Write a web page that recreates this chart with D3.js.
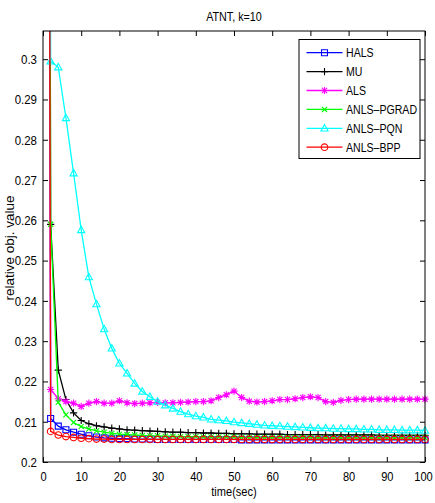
<!DOCTYPE html>
<html>
<head>
<meta charset="utf-8">
<script src="https://cdn.jsdelivr.net/npm/d3@7"></script>
<style>
    body { margin: 0; background: #fff; }
    text { font-family: "Liberation Sans", Arial, Helvetica, sans-serif; fill: #000; }
</style>
</head>
<body>
<svg id="chart" width="435" height="503"></svg>
<script>
// time stamps (sec), every series is sampled at these
const times = [0, 2, 4, 6, 8, 10, 12, 14, 16, 18,
    20, 22, 24, 26, 28, 30, 32, 34, 36, 38,
    40, 42, 44, 46, 48, 50, 52, 54, 56, 58,
    60, 62, 64, 66, 68, 70, 72, 74, 76, 78,
    80, 82, 84, 86, 88, 90, 92, 94, 96, 98,
    100];

const halsValues = [1.2, 0.2108, 0.2089, 0.2080, 0.2074, 0.2069, 0.2065, 0.2062, 0.2060, 0.2059,
    0.2058, 0.2058, 0.2057, 0.2057, 0.2057, 0.2056, 0.2056, 0.2056, 0.2056, 0.2056,
    0.2056, 0.2056, 0.2056, 0.2056, 0.2056, 0.2056, 0.2055, 0.2055, 0.2055, 0.2055,
    0.2055, 0.2055, 0.2055, 0.2055, 0.2055, 0.2055, 0.2055, 0.2055, 0.2055, 0.2055,
    0.2055, 0.2055, 0.2055, 0.2055, 0.2055, 0.2055, 0.2055, 0.2055, 0.2055, 0.2055,
    0.2055];

const muValues = [1.2, 0.2590, 0.2228, 0.2155, 0.2122, 0.2103, 0.2095, 0.2090, 0.2087, 0.2084,
    0.2082, 0.2080, 0.2079, 0.2078, 0.2077, 0.2076, 0.2075, 0.2074, 0.2074, 0.2073,
    0.2073, 0.2072, 0.2072, 0.2071, 0.2071, 0.2070, 0.2070, 0.2070, 0.2069, 0.2069,
    0.2069, 0.2069, 0.2068, 0.2068, 0.2068, 0.2068, 0.2068, 0.2067, 0.2067, 0.2067,
    0.2067, 0.2067, 0.2067, 0.2067, 0.2066, 0.2066, 0.2066, 0.2066, 0.2066, 0.2066,
    0.2066];

const alsValues = [1.2, 0.2180, 0.2157, 0.2150, 0.2146, 0.2138, 0.2146, 0.2150, 0.2146, 0.2146,
    0.2152, 0.2147, 0.2145, 0.2146, 0.2147, 0.2148, 0.2147, 0.2147, 0.2148, 0.2149,
    0.2150, 0.2150, 0.2152, 0.2160, 0.2167, 0.2176, 0.2160, 0.2151, 0.2149, 0.2150,
    0.2152, 0.2155, 0.2155, 0.2157, 0.2160, 0.2162, 0.2160, 0.2150, 0.2148, 0.2153,
    0.2155, 0.2156, 0.2156, 0.2156, 0.2156, 0.2156, 0.2156, 0.2156, 0.2156, 0.2156,
    0.2156];

const pgradValues = [1.2, 0.2590, 0.2148, 0.2117, 0.2098, 0.2088, 0.2082, 0.2077, 0.2074, 0.2071,
    0.2069, 0.2068, 0.2067, 0.2066, 0.2065, 0.2065, 0.2064, 0.2064, 0.2063, 0.2063,
    0.2063, 0.2062, 0.2062, 0.2062, 0.2062, 0.2062, 0.2061, 0.2061, 0.2061, 0.2061,
    0.2061, 0.2061, 0.2061, 0.2061, 0.2061, 0.2061, 0.2060, 0.2060, 0.2060, 0.2060,
    0.2060, 0.2060, 0.2060, 0.2060, 0.2060, 0.2060, 0.2060, 0.2060, 0.2060, 0.2060,
    0.2060];

const pqnValues = [1.2, 0.2995, 0.2980, 0.2854, 0.2717, 0.2576, 0.2459, 0.2392, 0.2330, 0.2282,
    0.2245, 0.2220, 0.2195, 0.2175, 0.2162, 0.2150, 0.2141, 0.2133, 0.2125, 0.2119,
    0.2114, 0.2111, 0.2106, 0.2104, 0.2102, 0.2099, 0.2097, 0.2095, 0.2093, 0.2091,
    0.2090, 0.2089, 0.2088, 0.2087, 0.2086, 0.2085, 0.2084, 0.2084, 0.2083, 0.2083,
    0.2082, 0.2082, 0.2081, 0.2081, 0.2080, 0.2080, 0.2080, 0.2079, 0.2079, 0.2079,
    0.2078];

const bppValues = [1.2, 0.2076, 0.2067, 0.2063, 0.2061, 0.2059, 0.2058, 0.2057, 0.2057, 0.2056,
    0.2056, 0.2056, 0.2056, 0.2056, 0.2056, 0.2056, 0.2056, 0.2056, 0.2056, 0.2056,
    0.2056, 0.2056, 0.2056, 0.2056, 0.2056, 0.2056, 0.2056, 0.2056, 0.2056, 0.2056,
    0.2056, 0.2056, 0.2056, 0.2056, 0.2056, 0.2056, 0.2056, 0.2056, 0.2056, 0.2056,
    0.2056, 0.2056, 0.2056, 0.2056, 0.2056, 0.2056, 0.2056, 0.2056, 0.2056, 0.2056,
    0.2056];

const seriesNames = ["HALS", "MU", "ALS", "ANLS\u2013PGRAD", "ANLS\u2013PQN", "ANLS\u2013BPP"];
const seriesValues = [halsValues, muValues, alsValues, pgradValues, pqnValues, bppValues];

const xTicks = [0, 10, 20, 30, 40, 50, 60, 70, 80, 90, 100];
const xTickLabels = ["0", "10", "20", "30", "40", "50", "60", "70", "80", "90", "100"];
const yTicks = [0.2, 0.21, 0.22, 0.23, 0.24, 0.25, 0.26, 0.27, 0.28, 0.29, 0.3];
const yTickLabels = ["0.2", "0.21", "0.22", "0.23", "0.24", "0.25", "0.26", "0.27", "0.28", "0.29", "0.3"];

const titleText = "ATNT, k=10";
const xLabelText = "time(sec)";
const yLabelText = "relative obj. value";

// look of each series (colour + marker)
const seriesStyles = [
    { color: "#0000ff", marker: "square" },
    { color: "#000000", marker: "plus" },
    { color: "#ff00ff", marker: "star" },
    { color: "#00ff00", marker: "cross" },
    { color: "#00ffff", marker: "triangle" },
    { color: "#ff0000", marker: "circle" }
];

const plotLeft = 43, plotRight = 425, plotTop = 31, plotBottom = 462;
const yMax = 0.307;

const svg = d3.select("#chart");

const x = d3.scaleLinear().domain([0, 100]).range([plotLeft, plotRight]);
const y = d3.scaleLinear().domain([0.2, yMax]).range([plotBottom, plotTop]);

svg.append("rect").attr("width", 435).attr("height", 503).attr("fill", "#fff");

svg.append("defs").append("clipPath").attr("id", "plotClip")
    .append("rect")
    .attr("x", plotLeft).attr("y", plotTop)
    .attr("width", plotRight - plotLeft).attr("height", plotBottom - plotTop);

// narrow helvetica look
function squeeze(sel, k) {
    sel.each(function () {
        const w = this.getComputedTextLength();
        d3.select(this).attr("textLength", w * k).attr("lengthAdjust", "spacingAndGlyphs");
    });
}

function markerPath(kind, r) {
    if (kind === "square") return `M${-r},${-r}H${r}V${r}H${-r}Z`;
    if (kind === "plus") return `M${-r},0H${r}M0,${-r}V${r}`;
    if (kind === "cross") return `M${-r},${-r}L${r},${r}M${-r},${r}L${r},${-r}`;
    if (kind === "star") {
        const s = r * 0.72;
        return `M${-r},0H${r}M0,${-r}V${r}M${-s},${-s}L${s},${s}M${-s},${s}L${s},${-s}`;
    }
    if (kind === "triangle") return `M0,${-r}L${r * 0.95},${r * 0.7}L${-r * 0.95},${r * 0.7}Z`;
    return `M${r},0A${r},${r} 0 1,1 ${-r},0A${r},${r} 0 1,1 ${r},0Z`;
}

const markerSize = { square: 3, plus: 3.6, star: 3.6, cross: 2.6, triangle: 3.8, circle: 3.3 };

// axes (matlab style ticks pointing inwards)
const tickFont = 13.5;

const xAxisG = svg.append("g")
    .attr("transform", `translate(0,${plotBottom})`)
    .call(d3.axisBottom(x).tickValues(xTicks).tickSize(-5).tickSizeOuter(0).tickPadding(9)
        .tickFormat((d, i) => xTickLabels[i]));

const yAxisG = svg.append("g")
    .attr("transform", `translate(${plotLeft},0)`)
    .call(d3.axisLeft(y).tickValues(yTicks).tickSize(-5).tickSizeOuter(0).tickPadding(6)
        .tickFormat((d, i) => yTickLabels[i]));

const topAxisG = svg.append("g")
    .attr("transform", `translate(0,${plotTop})`)
    .call(d3.axisTop(x).tickValues(xTicks).tickSize(-5).tickSizeOuter(0).tickFormat(() => ""));

const rightAxisG = svg.append("g")
    .attr("transform", `translate(${plotRight},0)`)
    .call(d3.axisRight(y).tickValues(yTicks).tickSize(-5).tickSizeOuter(0).tickFormat(() => ""));

[xAxisG, yAxisG, topAxisG, rightAxisG].forEach(g => {
    g.select(".domain").remove();
    g.selectAll(".tick line").attr("stroke", "#000").attr("stroke-width", 1);
    g.attr("font-family", null).attr("font-size", null);
    g.selectAll("text").style("font-size", tickFont + "px");
});
squeeze(xAxisG.selectAll("text"), 0.82);
squeeze(yAxisG.selectAll("text"), 0.85);
// last label sits a touch left, as in the original export
xAxisG.selectAll(".tick text").filter(d => d === 100).attr("dx", -2);

// data
const lineGen = d3.line()
    .x(d => x(d[0]))
    .y(d => y(d[1]));

const dataG = svg.append("g");

seriesValues.forEach((vals, i) => {
    const st = seriesStyles[i];
    const pts = times.map((t, j) => [t, vals[j]]);

    dataG.append("path")
        .datum(pts)
        .attr("clip-path", "url(#plotClip)")
        .attr("d", lineGen)
        .attr("fill", "none")
        .attr("stroke", st.color)
        .attr("stroke-width", 1.3);

    dataG.append("g")
        .selectAll("path")
        .data(pts.filter(p => p[1] <= yMax))
        .enter()
        .append("path")
        .attr("transform", d => `translate(${x(d[0])},${y(d[1])})`)
        .attr("d", markerPath(st.marker, markerSize[st.marker]))
        .attr("fill", "none")
        .attr("stroke", st.color)
        .attr("stroke-width", 1.1);
});

// axes box
svg.append("rect")
    .attr("x", plotLeft).attr("y", plotTop)
    .attr("width", plotRight - plotLeft).attr("height", plotBottom - plotTop)
    .attr("fill", "none").attr("stroke", "#000").attr("stroke-width", 1);

// labels
const title = svg.append("text")
    .attr("x", (plotLeft + plotRight) / 2).attr("y", 21)
    .attr("text-anchor", "middle")
    .style("font-size", "12.5px")
    .text(titleText);
squeeze(title, 0.86);

const xLabel = svg.append("text")
    .attr("x", (plotLeft + plotRight) / 2).attr("y", 495.5)
    .attr("text-anchor", "middle")
    .style("font-size", "13.5px")
    .text(xLabelText);
squeeze(xLabel, 0.82);

svg.append("text")
    .attr("transform", "translate(14,248) rotate(-90)")
    .attr("text-anchor", "middle")
    .style("font-size", "13.5px")
    .text(yLabelText);

// legend
const legend = svg.append("g");
legend.append("rect")
    .attr("x", 299).attr("y", 39.5)
    .attr("width", 121).attr("height", 119)
    .attr("fill", "#fff").attr("stroke", "#000").attr("stroke-width", 1);

const legendRows = legend.selectAll("g.row")
    .data(seriesNames)
    .enter()
    .append("g")
    .attr("class", "row")
    .attr("transform", (d, i) => `translate(0,${52.7 + i * 18.9})`);

legendRows.append("line")
    .attr("x1", 306.5).attr("x2", 342.5)
    .attr("stroke", (d, i) => seriesStyles[i].color)
    .attr("stroke-width", 1.3);

legendRows.append("path")
    .attr("transform", "translate(324.5,0)")
    .attr("d", (d, i) => markerPath(seriesStyles[i].marker, markerSize[seriesStyles[i].marker]))
    .attr("fill", "none")
    .attr("stroke", (d, i) => seriesStyles[i].color)
    .attr("stroke-width", 1.1);

const legendText = legendRows.append("text")
    .attr("x", 346).attr("y", 4.5)
    .style("font-size", "12px")
    .text(d => d);
squeeze(legendText, 0.88);
</script>
</body>
</html>
